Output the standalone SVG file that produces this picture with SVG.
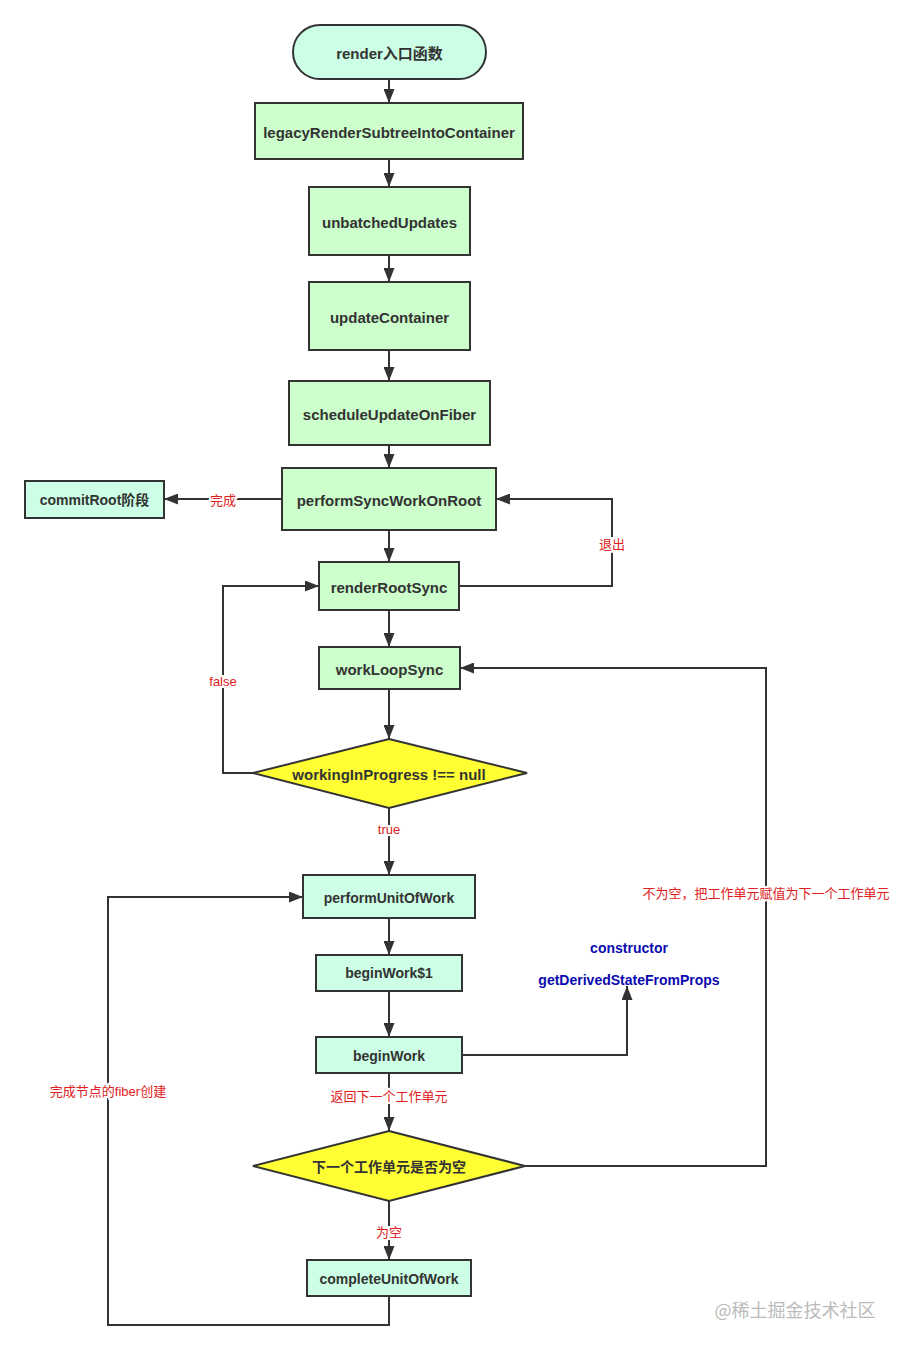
<svg xmlns="http://www.w3.org/2000/svg" width="904" height="1350" viewBox="0 0 904 1350">
<style>
.g{fill:#CCFFCC;stroke:#333;stroke-width:2}
.m{fill:#CCFFE6;stroke:#333;stroke-width:2}
.y{fill:#FFFF33;stroke:#333;stroke-width:2}
.t{font-family:"Liberation Sans","Noto Sans CJK SC",sans-serif;font-size:15px;font-weight:bold;fill:#333;text-anchor:middle;dominant-baseline:central}
.s{font-size:14px}
.c{fill:none;stroke:#333;stroke-width:2}
.l{font-family:"Liberation Sans","Noto Sans CJK SC",sans-serif;font-size:13px;fill:#E02020;text-anchor:middle;dominant-baseline:central;stroke:#fff;stroke-width:4;paint-order:stroke}
.b{font-family:"Liberation Sans",sans-serif;font-size:14px;font-weight:bold;fill:#0A0AB0;text-anchor:middle;dominant-baseline:central}
.w{font-family:"Noto Sans CJK SC",sans-serif;font-size:18px;fill:#BBB;text-anchor:middle;dominant-baseline:central}
</style>
<defs>
<marker id="a" viewBox="0 0 14 11" refX="14" refY="5.5" markerWidth="14" markerHeight="11" markerUnits="userSpaceOnUse" orient="auto">
<path d="M0,0 L14,5.5 L0,11 Z" fill="#333"/>
</marker>
</defs>
<rect width="904" height="1350" fill="#fff"/>
<g id="connectors">
<path class="c" d="M389,79 V103" marker-end="url(#a)"/>
<path class="c" d="M389,159 V187" marker-end="url(#a)"/>
<path class="c" d="M389,255 V282" marker-end="url(#a)"/>
<path class="c" d="M389,350 V381" marker-end="url(#a)"/>
<path class="c" d="M389,445 V468" marker-end="url(#a)"/>
<path class="c" d="M282,499 H164" marker-end="url(#a)"/>
<path class="c" d="M389,530 V562" marker-end="url(#a)"/>
<path class="c" d="M459,586 H612 V499 H496" marker-end="url(#a)"/>
<path class="c" d="M389,610 V647" marker-end="url(#a)"/>
<path class="c" d="M389,689 V739" marker-end="url(#a)"/>
<path class="c" d="M253,773 H223 V586 H319" marker-end="url(#a)"/>
<path class="c" d="M389,808 V875" marker-end="url(#a)"/>
<path class="c" d="M389,918 V955" marker-end="url(#a)"/>
<path class="c" d="M389,991 V1037" marker-end="url(#a)"/>
<path class="c" d="M462,1055 H627 V986" marker-end="url(#a)"/>
<path class="c" d="M389,1073 V1131" marker-end="url(#a)"/>
<path class="c" d="M525,1166 H766 V668 H460" marker-end="url(#a)"/>
<path class="c" d="M389,1201 V1260" marker-end="url(#a)"/>
<path class="c" d="M389,1296 V1325 H108 V897 H303" marker-end="url(#a)"/>
<text class="l" x="223" y="500">完成</text>
<text class="l" x="612" y="544">退出</text>
<text class="l" x="223" y="681">false</text>
<text class="l" x="389" y="829">true</text>
<text class="l" x="766" y="893">不为空，把工作单元赋值为下一个工作单元</text>
<text class="l" x="389" y="1096">返回下一个工作单元</text>
<text class="l" x="389" y="1232">为空</text>
<text class="l" x="108" y="1091">完成节点的fiber创建</text>
</g>
<g id="render"><rect class="m" x="293" y="25" width="193" height="54" rx="27"/><text class="t" x="389.5" y="53">render入口函数</text></g>
<g id="legacy"><rect class="g" x="255" y="103" width="268" height="56"/><text class="t" x="389" y="132">legacyRenderSubtreeIntoContainer</text></g>
<g id="unbatched"><rect class="g" x="309" y="187" width="161" height="68"/><text class="t" x="389.5" y="222">unbatchedUpdates</text></g>
<g id="updateContainer"><rect class="g" x="309" y="282" width="161" height="68"/><text class="t" x="389.5" y="317">updateContainer</text></g>
<g id="schedule"><rect class="g" x="289" y="381" width="201" height="64"/><text class="t" x="389.5" y="414">scheduleUpdateOnFiber</text></g>
<g id="performSync"><rect class="g" x="282" y="468" width="214" height="62"/><text class="t" x="389" y="500">performSyncWorkOnRoot</text></g>
<g id="commitRoot"><rect class="m" x="25" y="481" width="139" height="37"/><text class="t s" x="94.5" y="500">commitRoot阶段</text></g>
<g id="renderRootSync"><rect class="g" x="319" y="562" width="140" height="48"/><text class="t" x="389" y="587">renderRootSync</text></g>
<g id="workLoopSync"><rect class="g" x="319" y="647" width="141" height="42"/><text class="t" x="389.5" y="669">workLoopSync</text></g>
<g id="cond1"><polygon class="y" points="389,739 527,773 389,808 253,773"/><text class="t" x="389" y="774">workingInProgress !== null</text></g>
<g id="performUnitOfWork"><rect class="m" x="303" y="875" width="172" height="43"/><text class="t s" x="389" y="898">performUnitOfWork</text></g>
<g id="beginWork1"><rect class="m" x="316" y="955" width="146" height="36"/><text class="t s" x="389" y="973">beginWork$1</text></g>
<g id="beginWork"><rect class="m" x="316" y="1037" width="146" height="36"/><text class="t s" x="389" y="1056">beginWork</text></g>
<g id="lifecycle"><text class="b" x="629" y="948">constructor</text><text class="b" x="629" y="980">getDerivedStateFromProps</text></g>
<g id="cond2"><polygon class="y" points="389,1131 525,1166 389,1201 253,1166"/><text class="t s" x="389" y="1167">下一个工作单元是否为空</text></g>
<g id="completeUnitOfWork"><rect class="m" x="307" y="1260" width="164" height="36"/><text class="t s" x="389" y="1279">completeUnitOfWork</text></g>
<text class="w" x="795" y="1309">@稀土掘金技术社区</text>
</svg>
